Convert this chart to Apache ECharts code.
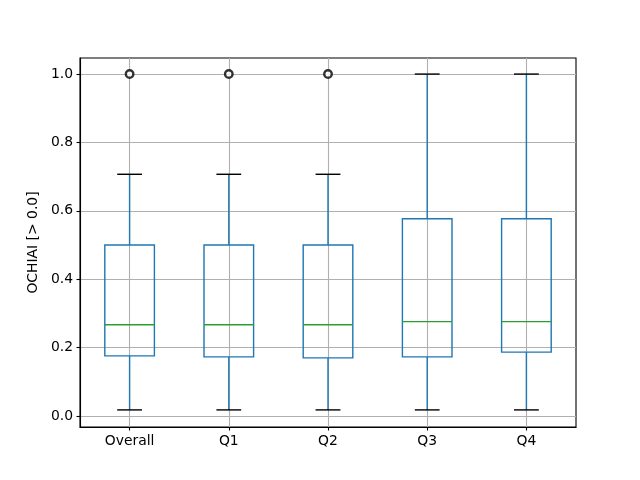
<!DOCTYPE html>
<html>
<head>
<meta charset="utf-8">
<script src="https://cdn.jsdelivr.net/npm/echarts@6/dist/echarts.min.js"></script>
<style>html,body{margin:0;padding:0;background:#fff}#c{width:640px;height:480px}</style>
</head>
<body>
<div id="c"></div>
<script>
const categories = ['Overall', 'Q1', 'Q2', 'Q3', 'Q4'];
const whiskerLow = [0.018, 0.018, 0.018, 0.018, 0.018];
const q1 = [0.176, 0.173, 0.170, 0.173, 0.187];
const median = [0.267, 0.267, 0.267, 0.276, 0.276];
const q3 = [0.500, 0.500, 0.500, 0.577, 0.577];
const whiskerHigh = [0.707, 0.707, 0.707, 1.0, 1.0];
const outliers = [[1, 1.0], [2, 1.0], [3, 1.0]];
const xTicks = [1, 2, 3, 4, 5];
const yTicks = [0.0, 0.2, 0.4, 0.6, 0.8, 1.0];

const boxData = categories.map((c, i) => [i + 1, whiskerLow[i], q1[i], median[i], q3[i], whiskerHigh[i]]);

const chart = echarts.init(document.getElementById('c'), null, {renderer: 'canvas'});
const font = 'DejaVu Sans';
chart.setOption({
  animation: false,
  backgroundColor: '#fff',
  grid: {left: 80, right: 64, top: 58, bottom: 53, show: true, borderColor: '#000', borderWidth: 1.1, backgroundColor: 'transparent'},
  xAxis: {
    type: 'value', min: 0.5, max: 5.5,
    axisLine: {show: true, onZero: false, lineStyle: {color: '#000', width: 1.1}},
    axisTick: {show: true, customValues: xTicks, length: 3.5, lineStyle: {color: '#000', width: 1.1}},
    axisLabel: {customValues: xTicks, margin: 7, color: '#000', fontFamily: font, fontSize: 13.9,
      formatter: v => categories[Math.round(v) - 1]},
    splitLine: {show: true, lineStyle: {color: '#b0b0b0', width: 1.1}}
  },
  yAxis: {
    type: 'value', min: -0.032, max: 1.047,
    name: 'OCHIAI [> 0.0]', nameLocation: 'middle', nameGap: 35, nameRotate: 90,
    nameTextStyle: {color: '#000', fontFamily: font, fontSize: 13.9},
    axisLine: {show: true, onZero: false, lineStyle: {color: '#000', width: 1.1}},
    axisTick: {show: true, customValues: yTicks, length: 3.5, lineStyle: {color: '#000', width: 1.1}},
    axisLabel: {customValues: yTicks, margin: 7, color: '#000', fontFamily: font, fontSize: 13.9,
      formatter: v => v.toFixed(1)},
    splitLine: {show: true, lineStyle: {color: '#b0b0b0', width: 1.1}}
  },
  series: [
    {
      type: 'custom',
      data: boxData,
      encode: {x: 0, y: [1, 2, 3, 4, 5]},
      renderItem: function (params, api) {
        const x = api.value(0);
        const band = api.size([1, 0])[0];
        const hw = band * 0.25, cw = band * 0.125;
        const pLow = api.coord([x, api.value(1)]);
        const pQ1 = api.coord([x, api.value(2)]);
        const pMed = api.coord([x, api.value(3)]);
        const pQ3 = api.coord([x, api.value(4)]);
        const pHigh = api.coord([x, api.value(5)]);
        const cx = pQ1[0];
        const blue = {stroke: '#1f77b4', lineWidth: 1.4, fill: null};
        return {
          type: 'group',
          children: [
            {type: 'rect', shape: {x: cx - hw, y: pQ3[1], width: 2 * hw, height: pQ1[1] - pQ3[1]}, style: blue},
            {type: 'line', shape: {x1: cx, y1: pQ1[1], x2: cx, y2: pLow[1]}, style: blue},
            {type: 'line', shape: {x1: cx, y1: pQ3[1], x2: cx, y2: pHigh[1]}, style: blue},
            {type: 'line', shape: {x1: cx - cw, y1: pLow[1], x2: cx + cw, y2: pLow[1]}, style: {stroke: '#000', lineWidth: 1.4}},
            {type: 'line', shape: {x1: cx - cw, y1: pHigh[1], x2: cx + cw, y2: pHigh[1]}, style: {stroke: '#000', lineWidth: 1.4}},
            {type: 'line', shape: {x1: cx - hw, y1: pMed[1], x2: cx + hw, y2: pMed[1]}, style: {stroke: '#2ca02c', lineWidth: 1.4}}
          ]
        };
      }
    },
    {
      type: 'scatter',
      data: outliers,
      symbol: 'circle',
      symbolSize: 7.5,
      itemStyle: {color: '#fff', borderColor: '#000', borderWidth: 2.4},
      z: 5
    }
  ]
});
</script>
</body>
</html>
